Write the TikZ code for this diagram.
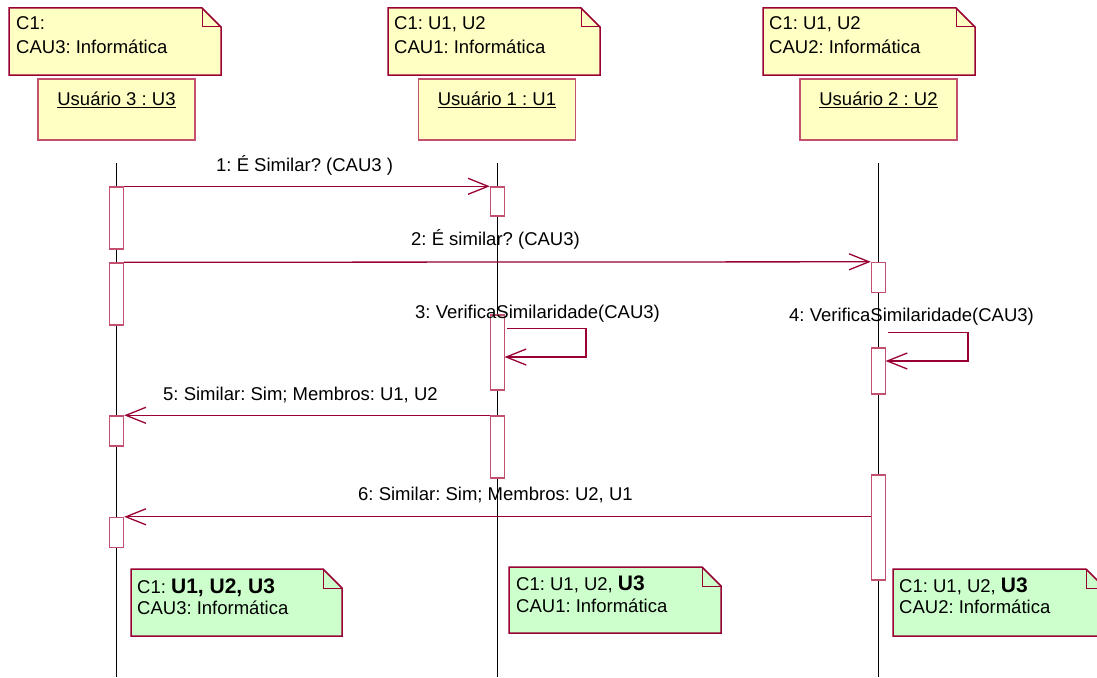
\documentclass[tikz,border=0pt]{standalone}
\usepackage{fontspec}
\setmainfont{Liberation Sans}
\usetikzlibrary{arrows.meta}
\definecolor{ndark}{HTML}{990033}
\definecolor{bpink}{HTML}{C45070}
\definecolor{nyellow}{HTML}{FFFFC4}
\definecolor{ngreen}{HTML}{CCFFCC}
\newcommand\umlnote[5]{%
  \filldraw[draw=ndark,line width=1.5pt,fill=#5,line join=miter]
    (#1,#2) -- ({#3-19},#2) -- (#3,{#2+19}) -- (#3,#4) -- (#1,#4) -- cycle;
  \draw[draw=ndark,line width=1pt] ({#3-19},#2) -- ({#3-19},{#2+19}) -- (#3,{#2+19});
}
\frenchspacing
\begin{document}
\frenchspacing
\begin{tikzpicture}[x=1pt,y=-1pt,
  txt/.style={anchor=base west,inner sep=0pt,font=\fontsize{18.5}{22}\selectfont\frenchspacing},
  objbox/.style={draw=bpink,fill=nyellow,line width=1.2pt,minimum width=157pt,minimum height=61pt,inner sep=0pt},
  objlbl/.style={anchor=base,inner sep=0pt,font=\fontsize{18.5}{22}\selectfont\frenchspacing},
  actbox/.style={draw=bpink,fill=white,line width=1.4pt,minimum width=14pt,inner sep=0pt},
  msg/.style={draw=ndark,line width=1.3pt,-{Straight Barb[length=20pt,width=16pt,line width=1.3pt]}},
  selfmsg/.style={draw=ndark,line width=1.3pt,-{Straight Barb[length=20pt,width=16pt,line width=1.3pt]}},
  lifeline/.style={draw=black,line width=1pt},
]
\useasboundingbox (0,0) rectangle (1097,677);
\clip (0,0) rectangle (1097,677);
\fill[white] (0,0) rectangle (1097,677);

% top notes
\umlnote{9}{8}{221}{75}{nyellow}
\node[txt] (t1a) at (16,30) {C1:};
\node[txt] (t1b) at (16,53.5) {CAU3: Informática};
\umlnote{388}{8}{600}{75}{nyellow}
\node[txt] (t2a) at (394,30) {C1: U1, U2};
\node[txt] (t2b) at (394,53.5) {CAU1: Informática};
\umlnote{763}{8}{975}{75}{nyellow}
\node[txt] (t3a) at (769,30) {C1: U1, U2};
\node[txt] (t3b) at (769,53.5) {CAU2: Informática};

% object boxes
\node[objbox] (o3) at (116.5,109.5) {};
\node[objlbl] (l3) at (116.5,105) {Usuário 3 : U3};
\node[objbox] (o1) at (497,109.5) {};
\node[objlbl] (l1) at (497,105) {Usuário 1 : U1};
\node[objbox] (o2) at (878.5,109.5) {};
\node[objlbl] (l2) at (878.5,105) {Usuário 2 : U2};
\foreach \n in {l1,l2,l3}
  \draw[line width=1pt] ([yshift=-2pt]\n.base west) -- ([yshift=-2pt]\n.base east);

% lifelines
\coordinate (ls3) at (116.5,163); \coordinate (le3) at (116.5,677);
\coordinate (ls1) at (497.5,163); \coordinate (le1) at (497.5,677);
\coordinate (ls2) at (878.5,163); \coordinate (le2) at (878.5,677);
\draw[lifeline] (ls3) -- (le3);
\draw[lifeline] (ls1) -- (le1);
\draw[lifeline] (ls2) -- (le2);

% activation boxes
\node[actbox,minimum height=62pt] (a1) at (116.5,218) {};
\node[actbox,minimum height=62pt] (a2) at (116.5,294) {};
\node[actbox,minimum height=30pt] (a3) at (116.5,431) {};
\node[actbox,minimum height=30pt] (a4) at (116.5,532.5) {};
\node[actbox,minimum height=29pt] (b1) at (497.5,201.5) {};
\node[actbox,minimum height=75pt] (b2) at (497.5,352.5) {};
\node[actbox,minimum height=62pt] (b3) at (497.5,447) {};
\node[actbox,minimum height=30pt] (c1) at (878.5,277.5) {};
\node[actbox,minimum height=46pt] (c2) at (878.5,371) {};
\node[actbox,minimum height=105pt] (c3) at (878.5,527.5) {};

% messages
\draw[msg] (a1.north east) -- (b1.north west);
\node[txt] (m1) at (216,171.5) {1: É Similar? (CAU3 )};
\draw[msg] (a2.north east) -- (c1.north west);
\node[txt] (m2) at (411,245.5) {2: É similar? (CAU3)};

\coordinate (s3a) at (507,328.5);
\coordinate (s3b) at (586,328.5);
\coordinate (s3c) at (586,357);
\coordinate (s3d) at (504.5,357);
\draw[selfmsg] (s3a) -- (s3b) -- (s3c) -- (s3d);
\node[txt] (m3) at (415,318) {3: VerificaSimilaridade(CAU3)};

\coordinate (s4a) at (888,332.5);
\coordinate (s4b) at (968,332.5);
\coordinate (s4c) at (968,361);
\coordinate (s4d) at (885.5,361);
\draw[selfmsg] (s4a) -- (s4b) -- (s4c) -- (s4d);
\node[txt] (m4) at (789,321) {4: VerificaSimilaridade(CAU3)};

\draw[msg] (b3.north west) -- (a3.north east);
\node[txt] (m5) at (163,400) {5: Similar: Sim; Membros: U1, U2};
\draw[msg] (c3.west |- a4.north) -- (a4.north east);
\node[txt] (m6) at (358,500) {6: Similar: Sim; Membros: U2, U1};

% bottom notes
\umlnote{131}{569}{342}{636}{ngreen}
\node[txt] (n1a) at (137,593) {C1: {\bfseries\fontsize{21}{24}\selectfont U1, U2, U3}};
\node[txt] (n1b) at (137,614) {CAU3: Informática};
\umlnote{509}{567}{721}{633}{ngreen}
\node[txt] (n2a) at (516,590) {C1: U1, U2, {\bfseries\fontsize{21}{24}\selectfont U3}};
\node[txt] (n2b) at (516,612) {CAU1: Informática};
\umlnote{893}{569}{1105}{636}{ngreen}
\node[txt] (n3a) at (899,592) {C1: U1, U2, {\bfseries\fontsize{21}{24}\selectfont U3}};
\node[txt] (n3b) at (899,613.5) {CAU2: Informática};
\end{tikzpicture}
\end{document}
